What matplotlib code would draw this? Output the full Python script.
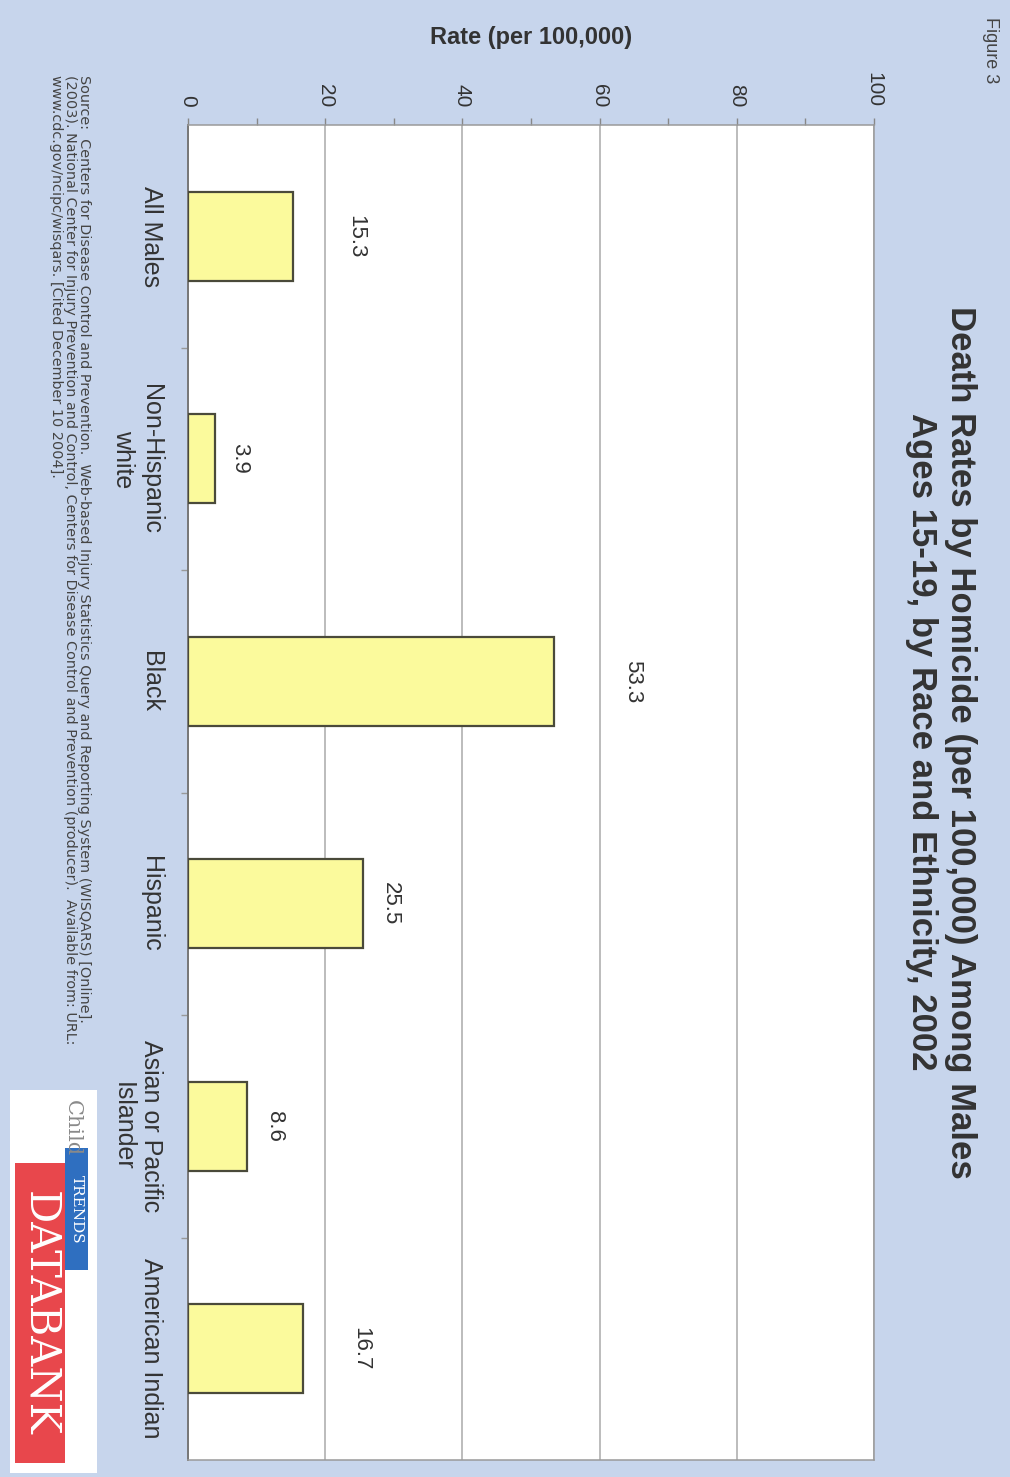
import matplotlib
matplotlib.use("Agg")
import matplotlib.pyplot as plt
from matplotlib.patches import Rectangle
from matplotlib.ticker import MultipleLocator, FixedLocator

plt.rcParams['font.family'] = ['Liberation Sans', 'DejaVu Sans']

# ---- data ----
categories = ["All Males", "Non-Hispanic\nwhite", "Black", "Hispanic",
              "Asian or Pacific\nIslander", "American Indian"]
rates = [15.3, 3.9, 53.3, 25.5, 8.6, 16.7]
value_ticks = [0, 20, 40, 60, 80, 100]
title_text = ("Death Rates by Homicide (per 100,000) Among Males\n"
              "Ages 15-19, by Race and Ethnicity, 2002")
axis_label = "Rate (per 100,000)"
source_text = ("Source:  Centers for Disease Control and Prevention.  Web-based Injury Statistics Query and Reporting System (WISQARS) [Online].\n"
               "(2003). National Center for Injury Prevention and Control, Centers for Disease Control and Prevention (producer).  Available from: URL:\n"
               "www.cdc.gov/ncipc/wisqars. [Cited December 10 2004].")

# label offsets (points) to the right of each bar end, as placed in the original
label_offsets = [45, 18, 57, 20, 20, 42]

BG = "#c7d5ec"
W, H = 1010, 1477
fig = plt.figure(figsize=(W / 100, H / 100), dpi=100, facecolor=BG)

ax = fig.add_axes([188 / W, 1 - 1460 / H, (874 - 188) / W, (1460 - 125) / H])
ax.set_facecolor("white")

ypos = list(range(len(categories)))
bars = ax.barh(ypos, rates, height=0.4, color="#fbfa9c", edgecolor="#4a4a3a",
               linewidth=1.6, zorder=3)

ax.set_xlim(0, 100)
ax.set_ylim(len(categories) - 0.5, -0.5)

# value axis on top
ax.xaxis.set_ticks_position("top")
ax.xaxis.set_label_position("top")
ax.set_xticks(value_ticks)
ax.set_xticklabels([str(v) for v in value_ticks], rotation=270, fontsize=15,
                   color="#333333")
ax.xaxis.set_minor_locator(MultipleLocator(10))
ax.tick_params(axis="x", which="both", direction="out", length=5, width=1,
               color="#888888", pad=8)
ax.set_xlabel(axis_label, fontsize=17, fontweight="bold", color="#333333",
              labelpad=20)

# grid
ax.grid(axis="x", which="major", color="#aaaaaa", linewidth=1.1, zorder=1)

# categories
ax.set_yticks(ypos)
ax.set_yticklabels(categories, rotation=270, fontsize=18, color="#333333",
                   ha="right", va="center", multialignment="center")
ax.tick_params(axis="y", which="major", length=0, pad=18)
ax.yaxis.set_minor_locator(FixedLocator([i + 0.5 for i in range(len(categories) - 1)]))
ax.tick_params(axis="y", which="minor", length=5, width=1, color="#999999",
               direction="out")

for s in ["top", "right", "bottom"]:
    ax.spines[s].set_color("#9a9a9a")
    ax.spines[s].set_linewidth(1.1)
ax.spines["left"].set_color("#777777")
ax.spines["left"].set_linewidth(1.4)

# value labels
for b, v, off in zip(bars, rates, label_offsets):
    ax.annotate(f"{v}", xy=(b.get_width(), b.get_y() + b.get_height() / 2),
                xytext=(off, 0), textcoords="offset points", rotation=270,
                ha="center", va="center", fontsize=16, color="#333333", zorder=4)

# title and figure label
fig.text(941 / W, 1 - 742 / H, title_text, rotation=270, ha="center",
         va="center", multialignment="center", fontsize=25, fontweight="bold",
         color="#333333", linespacing=1.2)
fig.text(990 / W, 1 - 50 / H, "Figure 3", rotation=270, ha="center",
         va="center", fontsize=13, color="#444444")

# source
fig.text(70 / W, 1 - 75 / H, source_text, rotation=270, ha="center", va="top",
         multialignment="left", fontsize=10.4, color="#444444", linespacing=1.0,
         family="DejaVu Sans")

# logo
fig.patches.append(Rectangle((10 / W, 1 - 1473 / H), 87 / W, 383 / H,
                             transform=fig.transFigure, facecolor="white",
                             edgecolor="none", zorder=1))
fig.patches.append(Rectangle((15 / W, 1 - 1463 / H), 50 / W, 300 / H,
                             transform=fig.transFigure, facecolor="#e8474c",
                             edgecolor="none", zorder=2))
fig.patches.append(Rectangle((65 / W, 1 - 1270 / H), 23 / W, 122 / H,
                             transform=fig.transFigure, facecolor="#2f6fc0",
                             edgecolor="none", zorder=2))
fig.text(40 / W, 1 - 1313 / H, "DATABANK", rotation=270, ha="center",
         va="center", fontsize=30, color="white", family="DejaVu Serif", zorder=3)
fig.text(77 / W, 1 - 1209 / H, "TRENDS", rotation=270, ha="center",
         va="center", fontsize=11, color="white", family="DejaVu Serif", zorder=3)
fig.text(72 / W, 1 - 1128 / H, "Child", rotation=270, ha="center",
         va="center", fontsize=15, color="#8a8a8a", family="DejaVu Serif", zorder=3)

fig.savefig("out.png", dpi=100, facecolor=BG)
